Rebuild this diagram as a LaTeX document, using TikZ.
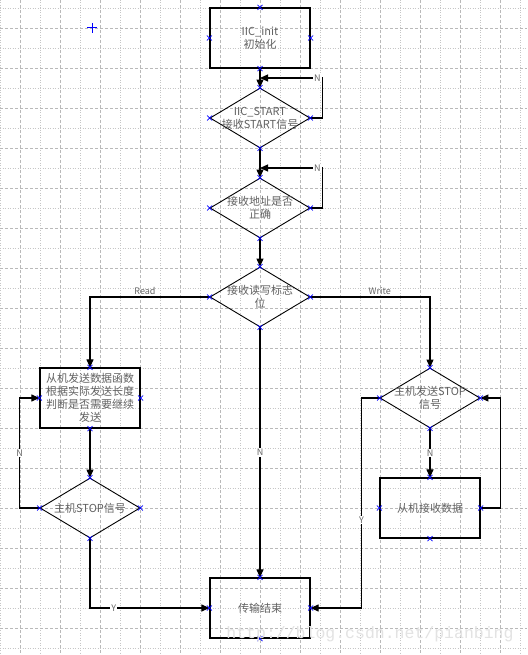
\documentclass[tikz,border=0pt]{standalone}
\usepackage{fontspec}
\newfontfamily\cjk{Noto Sans CJK SC}
\newfontfamily\wmfont{Liberation Mono}
\usetikzlibrary{arrows.meta,shapes.geometric}
\begin{document}
\begin{tikzpicture}[x=1pt,y=-1pt,font=\cjk\fontsize{11}{13}\selectfont,
  box/.style={draw,line width=1.2pt,minimum width=100pt,minimum height=60pt,inner sep=0pt,align=center,text=black!62},
  dia/.style={draw,diamond,line width=0.9pt,minimum width=100pt,minimum height=60pt,aspect=1.667,inner sep=-8pt,align=center,text=black!62},
  link/.style={line width=1.1pt,-{Triangle[length=8pt,width=7pt]}},
  lbl/.style={fill=white,inner sep=1pt,text=black!60,font=\cjk\fontsize{9}{9}\selectfont},
  tag/.style={above,inner sep=2pt,text=black!60,font=\cjk\fontsize{9}{9}\selectfont},
  dashline/.style={gray!55,line width=0.7pt,dash pattern=on 3pt off 2pt},
  dotline/.style={gray!45,line width=0.7pt,dash pattern=on 1pt off 1.5pt}]
  \fill[white] (0,0) rectangle (527,655);
  \useasboundingbox (0,0) rectangle (527,655);
  % grid
  \foreach \x in {0,40,...,520} \draw[dotline] (\x+0.5,0)--(\x+0.5,655);
  \foreach \x in {20,60,...,520} \draw[dashline] (\x+0.5,0)--(\x+0.5,655);
  \foreach \y in {8,48,...,648} \draw[dotline] (0,\y)--(527,\y);
  \foreach \y in {28,68,...,648} \draw[dashline] (0,\y)--(527,\y);
  \draw[blue,line width=1pt] (92,28) +(-5,0)--+(5,0) +(0,-5)--+(0,5);
  % shapes
  \node[box] (init) at (260,38) {IIC\_init\\初始化};
  \node[dia] (start) at (260,118) {IIC\_START\\接收START信号};
  \node[dia] (addr) at (260,208) {接收地址是否\\正确};
  \node[dia] (rw) at (260,297) {接收读写标志\\位};
  \node[box] (send) at (90,398) {从机发送数据函数\\根据实际发送长度\\判断是否需要继续\\发送};
  \node[dia] (mstop) at (90,508) {主机STOP信号};
  \node[dia] (wstop) at (430,398) {主机发送STOP\\信号};
  \node[box] (recv) at (430,508) {从机接收数据};
  \node[box] (done) at (260,608) {传输结束};
  \coordinate (j1) at (260,78);
  \coordinate (j2) at (260,168);
  % connectors
  \draw[link] (init)--(start);
  \draw[link] (start.east)--++(12,0) |- (j1) node[lbl,pos=0.54]{N};
  \draw[link] (start)--(addr);
  \draw[link] (addr.east)--++(12,0) |- (j2) node[lbl,pos=0.54]{N};
  \draw[link] (addr)--(rw);
  \draw[link] (rw.west) -| (send.north) node[tag,pos=0.27]{Read};
  \draw[link] (rw.east) -| (wstop.north) node[tag,pos=0.29]{Write};
  \draw[link] (rw.south)--(done.north) node[lbl,midway]{N};
  \draw[link] (send)--(mstop);
  \draw[link] (mstop.west)--++(-20,0) |- (send.west) node[lbl,pos=0.25]{N};
  \draw[link] (mstop.south) |- (done.west) node[lbl,pos=0.6]{Y};
  \draw[link] (wstop)--(recv) node[lbl,midway]{N};
  \draw[link] (recv.east)--++(20,0) |- (wstop.east);
  \draw[link] (wstop.west)--++(-18,0) |- (done.east) node[lbl,pos=0.29]{Y};
  % connection marks
  \foreach \n in {init,start,addr,rw,send,mstop,wstop,recv,done}
    \foreach \a in {north,south,east,west}
      \draw[blue,line width=0.7pt] (\n.\a) +(-2.5,-2.5)--+(2.5,2.5) +(-2.5,2.5)--+(2.5,-2.5);
  \node[text=gray!22,font=\wmfont\fontsize{16.5}{16.5}\selectfont] (wm) at (370,634) {http://blog.csdn.net/pianbing};
\end{tikzpicture}
\end{document}
